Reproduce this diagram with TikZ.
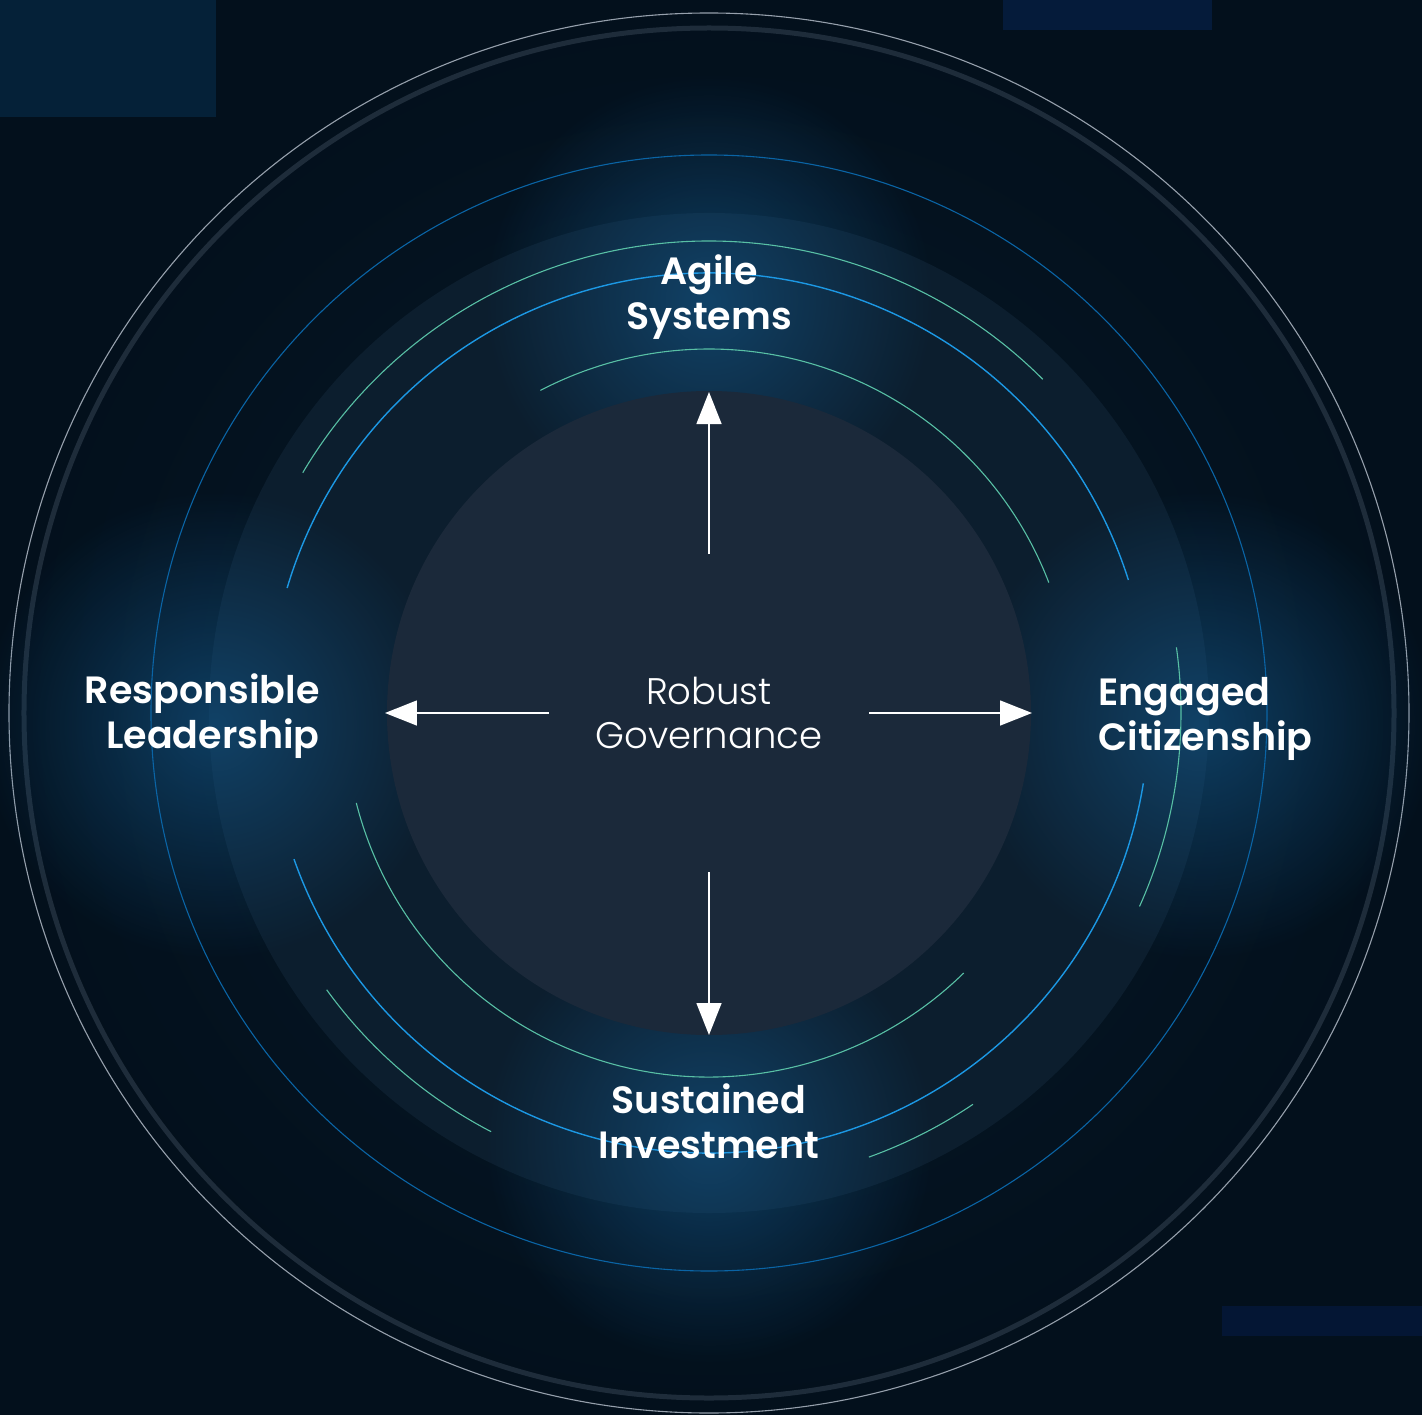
\documentclass[tikz,border=0pt]{standalone}
\usepackage{fontspec}
\IfFontExistsTF{Poppins SemiBold}{\setmainfont{Poppins}[BoldFont={Poppins SemiBold}]}{\setmainfont{Poppins}}
\IfFontExistsTF{Poppins Light}{\newfontfamily\govfont{Poppins Light}}{\newfontfamily\govfont{Poppins}}
\usetikzlibrary{arrows.meta,fadings}
\definecolor{bgin}{RGB}{6,25,42}
\definecolor{bgout}{RGB}{3,16,28}
\definecolor{rectA}{RGB}{5,33,56}
\definecolor{rectB}{RGB}{5,27,58}
\definecolor{rectC}{RGB}{4,22,52}
\definecolor{whitering}{RGB}{150,160,172}
\definecolor{thickring}{RGB}{30,44,58}
\definecolor{bluecirc}{RGB}{10,100,165}
\definecolor{bluearc}{RGB}{28,152,228}
\definecolor{tealarc}{RGB}{88,192,165}
\definecolor{midDisc}{RGB}{12,30,46}
\definecolor{innerDisc}{RGB}{27,41,58}
\definecolor{glowcol}{RGB}{20,88,138}
\tikzfading[name=glowfade, inner color=transparent!0, outer color=transparent!100]
\tikzset{
  label/.style={inner sep=0pt, text=white, font=\fontsize{19pt}{22.5pt}\selectfont\bfseries},
  govlabel/.style={inner sep=0pt, text=white, font=\fontsize{18.5pt}{22pt}\selectfont\govfont, align=center},
  tealline/.style={draw=tealarc, line width=0.55pt},
  blueline/.style={draw=bluearc, line width=0.7pt},
  arr/.style={draw=white, line width=0.75pt, -{Triangle[length=16pt,width=12.5pt]}},
  glow/.style={fill=glowcol, fill opacity=0.62, path fading=glowfade}
}
\begin{document}
\begin{tikzpicture}[x=0.5pt,y=0.5pt]
\useasboundingbox (-709,-701) rectangle (713,713);
% background
\shade[inner color=bgin, outer color=bgout] (-709,-701) rectangle (713,713);
\fill[rectA] (-709,713) rectangle (-493,596);
\fill[rectB] (294,713) rectangle (503,683);
\fill[rectC] (513,-593) rectangle (713,-623);
% outer rings
\draw[whitering, line width=0.55pt] (0,0) circle[radius=700];
\draw[thickring, line width=2.5pt] (0,0) circle[radius=685];
% middle disc
\fill[midDisc] (0,0) circle[radius=500];
% glows
\fill[glow] (0,413) circle[radius=225];
\fill[glow] (-494,-12) circle[radius=235];
\fill[glow] (491,-12) circle[radius=235];
\fill[glow] (0,-427) circle[radius=225];
% inner disc
\fill[innerDisc] (0,0) circle[radius=322];
% blue full circle
\draw[bluecirc, line width=0.55pt] (0,0) circle[radius=558];
% blue arcs r=440
\draw[blueline] (17.6:440) arc[start angle=17.6, end angle=163.5, radius=440];
\draw[blueline] (199.4:440) arc[start angle=199.4, end angle=350.8, radius=440];
% teal arcs r=472
\draw[tealline] (45:472) arc[start angle=45, end angle=149.4, radius=472];
\draw[tealline] (-24.2:472) arc[start angle=-24.2, end angle=8, radius=472];
\draw[tealline] (215.9:472) arc[start angle=215.9, end angle=242.5, radius=472];
\draw[tealline] (289.8:472) arc[start angle=289.8, end angle=304, radius=472];
% teal arcs r=364
\draw[tealline] (21:364) arc[start angle=21, end angle=117.6, radius=364];
\draw[tealline] (194.3:364) arc[start angle=194.3, end angle=314.4, radius=364];
% labels (base anchor = last line baseline)
\node[govlabel, anchor=base] (gov) at (0,-35) {Robust\\Governance};
\node[label, align=center, anchor=base] (agile) at (0,383) {Agile\\Systems};
\node[label, align=right, anchor=base east] (lead) at (-389,-35) {Responsible\\Leadership};
\node[label, align=left, anchor=base west] (eng) at (389,-37) {Engaged\\Citizenship};
\node[label, align=center, anchor=base] (sus) at (0,-445) {Sustained\\Investment};
% arrows
\coordinate (upS) at (0,159);   \coordinate (upT) at (0,321);
\coordinate (dnS) at (0,-159);  \coordinate (dnT) at (0,-322);
\coordinate (lfS) at (-160,0);  \coordinate (lfT) at (-324,0);
\coordinate (rtS) at (160,0);   \coordinate (rtT) at (323,0);
\draw[arr] (upS) -- (upT);
\draw[arr] (dnS) -- (dnT);
\draw[arr] (lfS) -- (lfT);
\draw[arr] (rtS) -- (rtT);
\end{tikzpicture}
\end{document}
